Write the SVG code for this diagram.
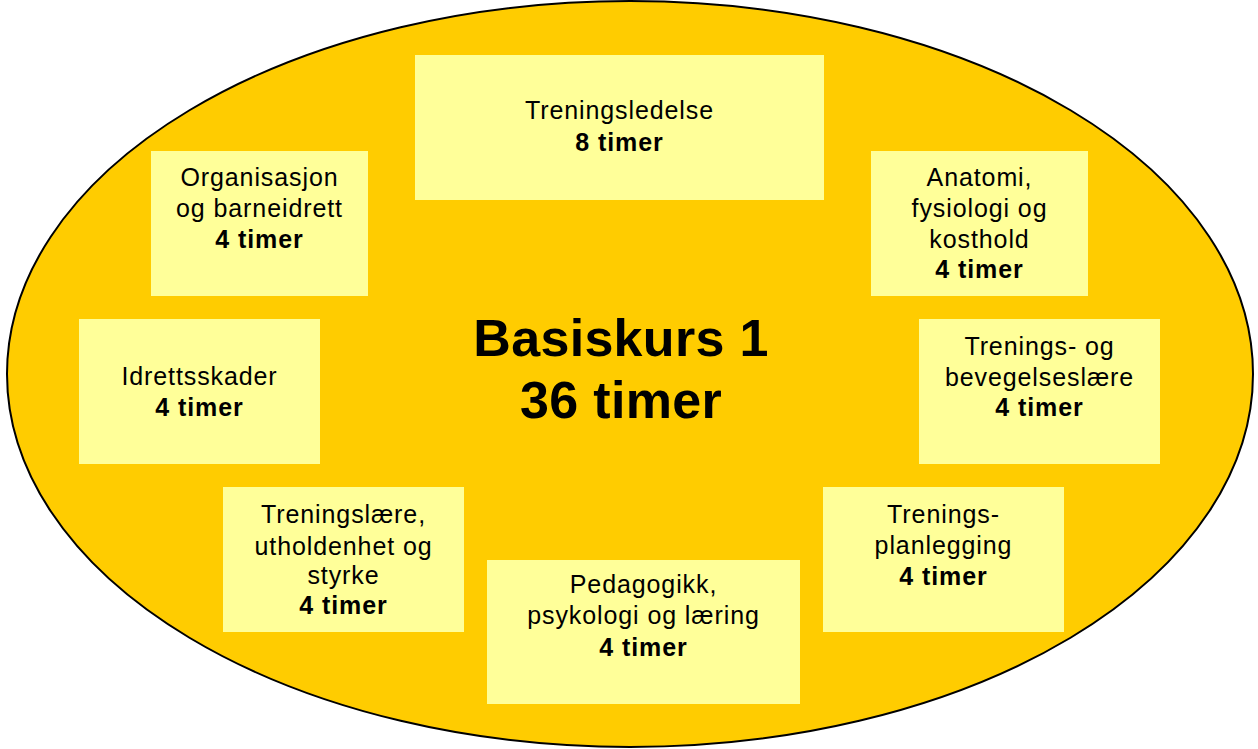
<svg xmlns="http://www.w3.org/2000/svg" width="1258" height="749" viewBox="0 0 1258 749">
  <style>
    .box { fill: #FFFF99; }
    .t { font-family: "Liberation Sans", Arial, Helvetica, sans-serif; font-size: 25px; letter-spacing: 0.9px; fill: #000; text-anchor: middle; }
    .b { font-weight: bold; }
    .title { font-family: "Liberation Sans", Arial, Helvetica, sans-serif; font-size: 52px; letter-spacing: 0.3px; font-weight: bold; fill: #000; text-anchor: middle; }
  </style>

  <!-- course outline -->
  <g id="course">
    <ellipse cx="630" cy="374" rx="623" ry="373" fill="#FFCC00" stroke="#000" stroke-width="2"/>
    <text class="title" x="621" y="356">Basiskurs 1</text>
    <text class="title" x="621" y="418">36 timer</text>
  </g>

  <g id="connectors"></g>

  <g id="treningsledelse">
    <rect class="box" x="415" y="55" width="409" height="145"/>
    <text class="t" x="619.5" y="119">Treningsledelse</text>
    <text class="t b" x="619.5" y="151">8 timer</text>
  </g>

  <g id="organisasjon">
    <rect class="box" x="151" y="151" width="217" height="145"/>
    <text class="t" x="259.5" y="186">Organisasjon</text>
    <text class="t" x="259.5" y="217">og barneidrett</text>
    <text class="t b" x="259.5" y="248">4 timer</text>
  </g>

  <g id="anatomi">
    <rect class="box" x="871" y="151" width="217" height="145"/>
    <text class="t" x="979.5" y="186">Anatomi,</text>
    <text class="t" x="979.5" y="217">fysiologi og</text>
    <text class="t" x="979.5" y="248">kosthold</text>
    <text class="t b" x="979.5" y="278">4 timer</text>
  </g>

  <g id="idrettsskader">
    <rect class="box" x="79" y="319" width="241" height="145"/>
    <text class="t" x="199.5" y="385">Idrettsskader</text>
    <text class="t b" x="199.5" y="416">4 timer</text>
  </g>

  <g id="bevegelseslaere">
    <rect class="box" x="919" y="319" width="241" height="145"/>
    <text class="t" x="1039.5" y="355">Trenings- og</text>
    <text class="t" x="1039.5" y="386">bevegelseslære</text>
    <text class="t b" x="1039.5" y="416">4 timer</text>
  </g>

  <g id="treningslaere">
    <rect class="box" x="223" y="487" width="241" height="145"/>
    <text class="t" x="343.5" y="523">Treningslære,</text>
    <text class="t" x="343.5" y="555">utholdenhet og</text>
    <text class="t" x="343.5" y="584">styrke</text>
    <text class="t b" x="343.5" y="614">4 timer</text>
  </g>

  <g id="planlegging">
    <rect class="box" x="823" y="487" width="241" height="145"/>
    <text class="t" x="943.5" y="523">Trenings-</text>
    <text class="t" x="943.5" y="554">planlegging</text>
    <text class="t b" x="943.5" y="585">4 timer</text>
  </g>

  <g id="pedagogikk">
    <rect class="box" x="487" y="560" width="313" height="144"/>
    <text class="t" x="643.5" y="593">Pedagogikk,</text>
    <text class="t" x="643.5" y="624">psykologi og læring</text>
    <text class="t b" x="643.5" y="656">4 timer</text>
  </g>
</svg>
